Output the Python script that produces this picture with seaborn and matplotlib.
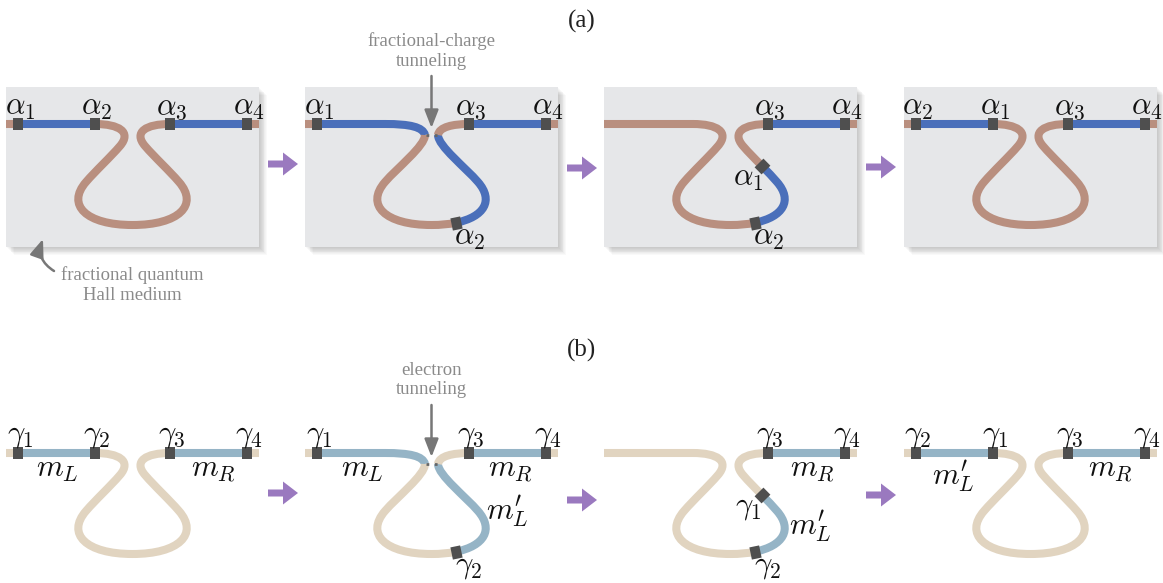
import numpy as np
import matplotlib
matplotlib.use("Agg")
import matplotlib.pyplot as plt
import seaborn as sns
from matplotlib.path import Path
from matplotlib.patches import PathPatch, Rectangle, FancyArrow
from matplotlib.markers import MarkerStyle
from matplotlib.transforms import Affine2D

# ---------------- data ----------------
row_titles = ["(a)", "(b)"]
anyon_symbol = [r"\alpha", r"\gamma"]
annot_a = "fractional quantum\nHall medium"
tunnel_text = ["fractional-charge\ntunneling", "electron\ntunneling"]

# strand shape: Bezier control points in panel-local units (x right, y down from edge line)
W = 253.0
seg_L0 = [(0, 0), (12, 0)]
seg_L1 = [(12, 0), (89, 0)]
seg_B1 = [(89, 0), (113, 0), (126, 8), (114, 22)]
seg_B2 = [(114, 22), (104.4, 33.2), (89.6, 46.8), (80, 58)]
seg_B3 = [(80, 58), (60, 81), (80, 101), (126.5, 101)]
seg_P1 = [(12, 0), (80, 0)]
seg_P2 = [(80, 0), (105, 0), (118, 3), (120, 11)]
seg_P3 = [(120, 11), (120, 22), (92, 44), (80, 58)]
seg_P2r = [(133, 11), (134, 3), (148, 0), (164, 0)]


def mirror(seg):
    return [(W - x, y) for x, y in reversed(seg)]


segments = {
    "L0": seg_L0, "L1": seg_L1, "B1": seg_B1, "B2": seg_B2, "B3": seg_B3,
    "B3m": mirror(seg_B3), "B2m": mirror(seg_B2), "B1m": mirror(seg_B1),
    "R1": mirror(seg_L1), "R0": mirror(seg_L0),
    "P1": seg_P1, "P2": seg_P2, "P3": seg_P3, "P3m": mirror(seg_P3), "P2r": seg_P2r,
}

# colour pieces along the strand for the four stages: (segment, t0, t1, kind) e=edge, m=mode
pieces = [
    [("L0", 0, 1, "e"), ("L1", 0, 1, "m"), ("B1", 0, 1, "e"), ("B2", 0, 1, "e"), ("B3", 0, 1, "e"),
     ("B3m", 0, 1, "e"), ("B2m", 0, 1, "e"), ("B1m", 0, 1, "e"), ("R1", 0, 1, "m"), ("R0", 0, 1, "e")],
    [("L0", 0, 1, "e"), ("P1", 0, 1, "m"), ("P2", 0, 1, "m"), ("P3", 0, 1, "e"), ("B3", 0, 1, "e"),
     ("B3m", 0, 0.2, "e"), ("B3m", 0.2, 1, "m"), ("P3m", 0, 1, "m"), ("P2r", 0, 1, "e"),
     ("R1", 0, 1, "m"), ("R0", 0, 1, "e")],
    [("L0", 0, 1, "e"), ("L1", 0, 1, "e"), ("B1", 0, 1, "e"), ("B2", 0, 1, "e"), ("B3", 0, 1, "e"),
     ("B3m", 0, 0.2, "e"), ("B3m", 0.2, 1, "m"), ("B2m", 0, 0.44, "m"), ("B2m", 0.44, 1, "e"),
     ("B1m", 0, 1, "e"), ("R1", 0, 1, "m"), ("R0", 0, 1, "e")],
    [("L0", 0, 1, "e"), ("L1", 0, 1, "m"), ("B1", 0, 1, "e"), ("B2", 0, 1, "e"), ("B3", 0, 1, "e"),
     ("B3m", 0, 1, "e"), ("B2m", 0, 1, "e"), ("B1m", 0, 1, "e"), ("R1", 0, 1, "m"), ("R0", 0, 1, "e")],
]
# piece groups that are separate strands (not continuous with previous piece)
breaks = [set(), {"P2r"}, set(), set()]

# zero-mode sites: (segment, t)
sites = {"s1": ("L1", 0.0), "s2": ("L1", 1.0), "s3": ("R1", 0.0), "s4": ("R1", 1.0),
         "bot": ("B3m", 0.2), "mid": ("B2m", 0.44)}
# per stage: (site, index, label side)
panel_marks = [
    [("s1", 1, "up"), ("s2", 2, "up"), ("s3", 3, "up"), ("s4", 4, "up")],
    [("s1", 1, "up"), ("bot", 2, "down"), ("s3", 3, "up"), ("s4", 4, "up")],
    [("mid", 1, "left"), ("bot", 2, "down"), ("s3", 3, "up"), ("s4", 4, "up")],
    [("s1", 2, "up"), ("s2", 1, "up"), ("s3", 3, "up"), ("s4", 4, "up")],
]
mode_labels = [
    [(r"$m_L$", 51, 16), (r"$m_R$", 207, 16)],
    [(r"$m_L$", 57, 17), (r"$m_R$", 205, 17), (r"$m^{\prime}_{L}$", 202, 59)],
    [(r"$m_R$", 208, 16), (r"$m^{\prime}_{L}$", 206, 74)],
    [(r"$m^{\prime}_{L}$", 49, 24), (r"$m_R$", 206, 16)],
]

# ---------------- layout / style ----------------
panel_x0 = [6, 305, 604, 904]
row_y0 = [124, 453]
title_y = [21, 350]
arrow_y = [[164, 168, 167], [493, 500, 495]]
arrow_x = [268, 567, 866]
edge_col = ["#b98f7f", "#e1d4c0"]
mode_col = ["#4a6fba", "#95b4c6"]
mark_col = "#4f4f4f"
box_col = "#e6e7e9"
purple = "#9a79bf"
gray_txt = "#8a8a8a"
gray_arrow = "#777777"
LW = 5.8
LBL = 22

sns.set_theme(style="white")
plt.rcParams["font.family"] = ["Liberation Serif", "DejaVu Serif"]
plt.rcParams["mathtext.fontset"] = "cm"

fig = plt.figure(figsize=(11.63, 5.83), dpi=100)
ax = fig.add_axes([0, 0, 1, 1])
ax.set_xlim(0, 1163)
ax.set_ylim(583, 0)
ax.axis("off")


def split(P, t):
    P = np.asarray(P, float)
    left, right = [P[0]], [P[-1]]
    cur = P
    while len(cur) > 1:
        cur = (1 - t) * cur[:-1] + t * cur[1:]
        left.append(cur[0])
        right.append(cur[-1])
    return np.array(left), np.array(right[::-1])


def sub(P, t0, t1):
    P = np.asarray(P, float)
    if t1 < 1:
        P = split(P, t1)[0]
    if t0 > 0:
        P = split(P, t0 / t1)[1]
    return P


def point(P, t):
    return split(P, t)[0][-1]


def tangent(P, t):
    P = np.asarray(P, float)
    return point(P[1:] - P[:-1], t) if len(P) > 2 else P[1] - P[0]


def flush(verts, codes, color):
    if verts:
        ax.add_patch(PathPatch(Path(np.array(verts), codes), fill=False, edgecolor=color,
                               lw=LW, capstyle="butt", joinstyle="round", zorder=3))


for r in range(2):
    y0 = row_y0[r]
    ax.text(582, title_y[r], row_titles[r], ha="center", va="center", fontsize=18, color="#222222")
    for p in range(4):
        x0 = panel_x0[p]
        if r == 0:
            for i in range(1, 10):
                ax.add_patch(Rectangle((x0 + i * 0.9, y0 - 37 + i * 0.9), W, 160,
                                       color="black", alpha=0.022, lw=0, zorder=0))
            ax.add_patch(Rectangle((x0, y0 - 37), W, 160, color=box_col, lw=0, zorder=1))
        verts, codes, cur = [], [], None
        for seg, t0, t1, kind in pieces[p]:
            col = edge_col[r] if kind == "e" else mode_col[r]
            P = sub(segments[seg], t0, t1) + np.array([x0, y0])
            c = [Path.LINETO] if len(P) == 2 else [Path.CURVE4] * 3
            if col != cur or seg in breaks[p]:
                flush(verts, codes, cur)
                verts, codes, cur = [P[0]], [Path.MOVETO], col
            verts += list(P[1:])
            codes += c
        flush(verts, codes, cur)
        for site, idx, side in panel_marks[p]:
            seg, t = sites[site]
            px, py = point(segments[seg], t)
            dx, dy = tangent(segments[seg], t)
            ang = np.degrees(np.arctan2(-dy, dx))
            ms = MarkerStyle("s", transform=Affine2D().scale(0.8, 1.0).rotate_deg(ang))
            sns.scatterplot(x=[x0 + px], y=[y0 + py], marker=ms, s=80, color=mark_col,
                            linewidth=0, ax=ax, zorder=5, legend=False)
            off = {"up": (2, -17), "down": (13, 15), "left": (-14, 12)}[side]
            ax.text(x0 + px + off[0], y0 + py + off[1], rf"${anyon_symbol[r]}_{idx}$",
                    ha="center", va="center", fontsize=LBL, color="#111111", zorder=6)
        if r == 1:
            for txt, lx, ly in mode_labels[p]:
                ax.text(x0 + lx, y0 + ly, txt, ha="center", va="center", fontsize=LBL,
                        color="#111111", zorder=6)
    for k in range(3):
        ax.add_patch(FancyArrow(arrow_x[k], arrow_y[r][k], 30, 0, width=7, head_width=23,
                                head_length=15, length_includes_head=True, color=purple,
                                lw=0, zorder=4))
    # tunneling annotation
    cx = panel_x0[1] + W / 2
    ax.text(cx, y0 - 73, tunnel_text[r], ha="center", va="center", fontsize=13.5,
            color=gray_txt, linespacing=1.2)
    ax.annotate("", xy=(cx, y0 + 4), xytext=(cx, y0 - 48),
                arrowprops=dict(arrowstyle="-|>,head_length=0.9,head_width=0.35",
                                color=gray_arrow, lw=1.8, shrinkA=0, shrinkB=0), zorder=6)
    ax.plot([cx - 6, cx + 6], [y0 + 11, y0 + 11], ls=(0, (1, 2)), color="#666666", lw=2, zorder=4)

ax.text(132, 285, annot_a, ha="center", va="center", fontsize=13.5, color=gray_txt, linespacing=1.25)
ax.annotate("", xy=(43, 239), xytext=(54, 271),
            arrowprops=dict(arrowstyle="-|>,head_length=0.9,head_width=0.35",
                            connectionstyle="arc3,rad=-0.4", color=gray_arrow, lw=1.8,
                            shrinkA=0, shrinkB=0), zorder=6)

fig.savefig("out.png", dpi=100)
